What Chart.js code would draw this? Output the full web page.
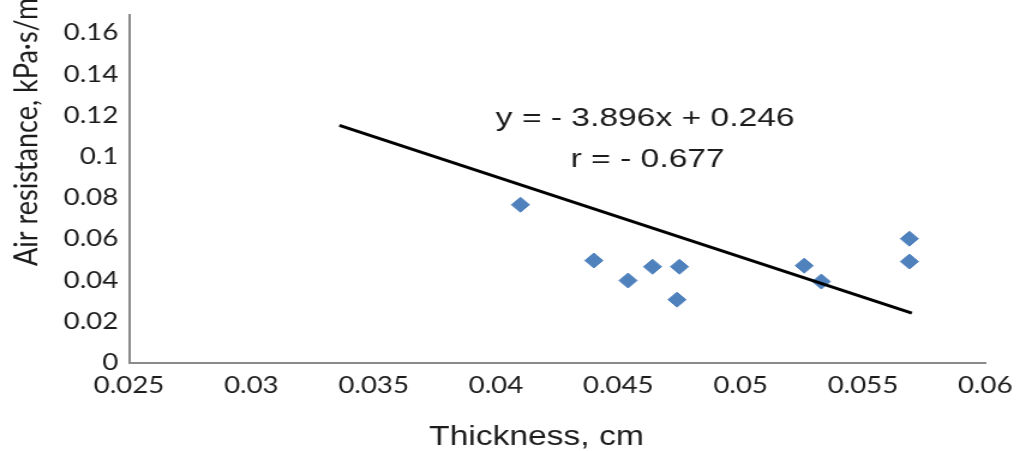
<!DOCTYPE html>
<html>
<head>
<meta charset="utf-8">
<script src="https://cdn.jsdelivr.net/npm/chart.js@4/dist/chart.umd.min.js"></script>
<style>
  html, body { margin: 0; padding: 0; background: #fff; overflow: hidden; }
  /* the figure is drawn narrow and widened horizontally */
  #wrap { position: absolute; left: 0; top: 0; width: 856px; height: 451px;
          transform: scaleX(1.2); transform-origin: 0 0; }
</style>
</head>
<body>
<div id="wrap"><canvas id="c"></canvas></div>
<script>
// measured samples
const thickness  = [0.0410, 0.0440, 0.0454, 0.0464, 0.0475, 0.0474, 0.0526, 0.0533, 0.0569, 0.0569];
const resistance = [0.0766, 0.0495, 0.0398, 0.0465, 0.0465, 0.0305, 0.0470, 0.0393, 0.0601, 0.0490];

// axis ticks
const xTicks = [0.025, 0.03, 0.035, 0.04, 0.045, 0.05, 0.055, 0.06];
const yTicks = [0, 0.02, 0.04, 0.06, 0.08, 0.1, 0.12, 0.14, 0.16];

// linear fit y = slope * x + intercept, drawn over the fitted span
const slope = -3.896;
const intercept = 0.246;
const fitSpan = [0.0336, 0.0570];
const fitLabels = ['y = - 3.896x + 0.246', 'r = - 0.677'];

const xTitle = 'Thickness, cm';
const yTitle = 'Air resistance, kPa·s/m';

const SANS = '"Liberation Sans", Arial, sans-serif';
const HUMAN = 'Lato, "Open Sans", sans-serif';
const TEXT = '#1c1c1c';
const AXIS = '#8a8a8a';

const pointData = thickness.map((x, i) => ({ x, y: resistance[i] }));
const fitData = fitSpan.map(x => ({ x, y: slope * x + intercept }));
const fmt = v => String(+Number(v).toFixed(4));

// titles and the fit equation
const textPlugin = {
  id: 'texts',
  afterDraw(chart) {
    const { ctx, scales: { x, y } } = chart;
    ctx.save();
    ctx.fillStyle = TEXT;
    // equation
    ctx.font = '25px ' + SANS;
    ctx.textAlign = 'center';
    ctx.textBaseline = 'middle';
    const eqPos = [{ x: 0.0461, y: 0.1182 }, { x: 0.0462, y: 0.0983 }];
    fitLabels.forEach((t, i) => {
      ctx.save();
      ctx.translate(x.getPixelForValue(eqPos[i].x), y.getPixelForValue(eqPos[i].y));
      ctx.scale(1.12, 1);
      ctx.fillText(t, 0, 0);
      ctx.restore();
    });
    // x title
    ctx.font = '28px ' + SANS;
    ctx.fillText(xTitle, 447, 437);
    // y title
    ctx.translate(22, 266);
    ctx.rotate(-Math.PI / 2);
    ctx.textAlign = 'left';
    ctx.font = '27px ' + HUMAN;
    ctx.fillText(yTitle, 0, 0);
    ctx.restore();
  }
};

new Chart(document.getElementById('c'), {
  type: 'scatter',
  data: {
    datasets: [
      {
        label: 'fit',
        data: fitData,
        showLine: true,
        borderColor: '#000',
        borderWidth: 3,
        pointRadius: 0,
        order: 0
      },
      {
        label: 'samples',
        data: pointData,
        pointStyle: 'rectRot',
        pointRadius: 7.5,
        pointBackgroundColor: '#4f81bd',
        pointBorderColor: '#4f81bd',
        pointBorderWidth: 1,
        order: 1
      }
    ]
  },
  options: {
    responsive: true,
    maintainAspectRatio: false,
    animation: false,
    layout: { padding: { top: 15, right: 35, left: 0, bottom: 0 } },
    plugins: { legend: { display: false }, tooltip: { enabled: false } },
    scales: {
      x: {
        type: 'linear',
        min: 0.025,
        max: 0.06,
        afterBuildTicks: s => { s.ticks = xTicks.map(v => ({ value: v })); },
        afterFit: s => { s.height = 88.5; s.paddingLeft = 0; s.paddingRight = 0; },
        grid: { display: false, drawTicks: false },
        border: { display: true, color: AXIS, width: 2 },
        ticks: { font: { family: HUMAN, size: 23 }, color: TEXT, padding: 9, maxRotation: 0, callback: fmt }
      },
      y: {
        type: 'linear',
        min: 0,
        max: 0.1687,
        afterBuildTicks: s => { s.ticks = yTicks.map(v => ({ value: v })); },
        afterFit: s => { s.width = 107.5; s.paddingTop = 0; s.paddingBottom = 0; },
        grid: { display: false, drawTicks: false },
        border: { display: true, color: AXIS, width: 2 },
        ticks: { font: { family: HUMAN, size: 23 }, color: TEXT, padding: 9, callback: fmt }
      }
    }
  },
  plugins: [textPlugin]
});
</script>
</body>
</html>
